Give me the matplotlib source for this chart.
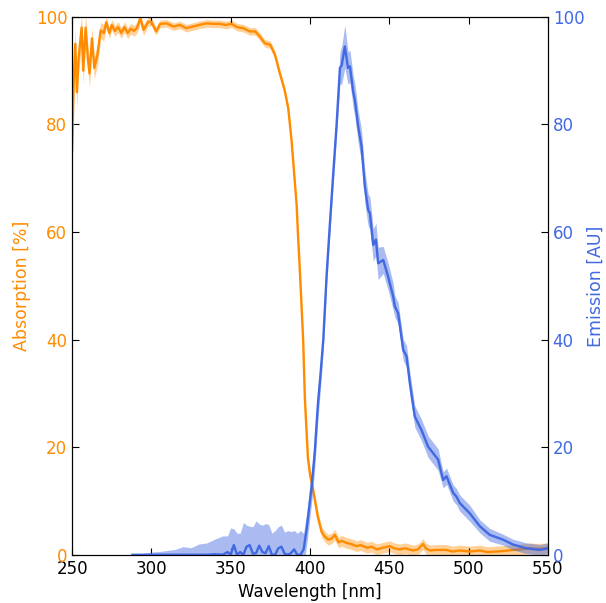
import numpy as np
import matplotlib
matplotlib.use('Agg')
import matplotlib.pyplot as plt

# absorption spectrum (orange)
abs_wl = [250, 251, 252, 253, 254, 256, 257, 258.5, 260, 261, 262.5, 264, 266, 268, 270,
          271.5, 273.5, 275, 277, 279, 281, 283, 285, 287, 289, 291, 293, 295, 298, 300,
          303, 305.5, 309.5, 314, 318, 322, 326, 330, 335, 339, 343, 347, 350.5, 354, 358,
          362, 365.5, 368.5, 371.5, 375, 378, 381, 384, 386.3, 388.4, 390, 391.6, 392.6,
          393.7, 394.7, 395.7, 396.8, 398.7, 400, 402, 403.5, 405, 407.3, 409, 411.5, 413.5,
          415.7, 418, 420, 423, 426, 429.4, 432, 436, 439, 442, 446, 450.4, 453, 456.7, 460,
          465, 468, 471.4, 473, 475.6, 480, 486, 490, 494.4, 500.7, 504, 507, 512, 517.5,
          522, 528, 533, 538.5, 544, 549, 550]
abs_val = [75, 88, 95, 86, 92, 98, 90, 98, 92, 89.5, 96, 90.5, 93, 97.5, 97,
           99, 97, 98.5, 97.4, 98.1, 97, 98.1, 97, 97.8, 97.4, 98, 99.8, 97.6, 99.1, 99.1,
           97.3, 98.7, 98.8, 98.2, 98.5, 97.9, 98.2, 98.5, 98.8, 98.7, 98.7, 98.5, 98.7, 98.1, 97.9,
           97.3, 97.3, 96.3, 95.1, 94.8, 92.9, 89.5, 86.4, 83, 77, 71, 65, 58.6,
           52.4, 46.2, 40, 29, 18, 15, 12, 9.5, 7, 4.3, 3.5, 2.8, 3,
           3.7, 2.3, 2.6, 2.2, 2.0, 1.6, 1.8, 1.3, 1.5, 1.0, 1.3, 1.6, 1.2, 1.0, 1.2,
           0.8, 1.0, 2.0, 1.2, 0.8, 0.9, 0.9, 0.6, 0.8, 0.6, 0.7, 0.8, 0.5, 0.6,
           0.7, 0.9, 1.0, 1.2, 1.1, 1.2, 1.3]
abs_err = [3, 3, 3, 3, 3, 2.5, 2.5, 2.5, 2.5, 2.5, 2, 2, 2, 1.5, 1.5,
           1, 1, 1, 1, 1, 1, 1, 1, 1, 1, 1, 1, 1, 0.8, 0.8,
           0.7, 0.7, 0.7, 0.7, 0.7, 0.7, 0.7, 0.7, 0.7, 0.7, 0.7, 0.7, 0.7, 0.7, 0.7,
           0.7, 0.7, 0.7, 0.7, 0.7, 0.7, 0.7, 0.7, 0.7, 0.7, 0.7, 0.7, 0.7,
           0.7, 0.7, 0.7, 0.8, 1, 1, 1, 1, 1, 1, 1, 1, 1,
           1, 1, 1, 1, 1, 1, 1, 1, 1, 1, 1, 1, 1, 1, 1,
           1, 1, 1, 1, 1, 1, 1, 1, 1, 1, 1, 1, 1, 1,
           1, 1, 1, 1, 1, 1, 1]

# emission spectrum (blue)
em_wl = [288, 295, 300, 305, 310, 315, 320, 325, 330, 335, 340, 345, 348, 350, 352, 354,
         356, 358, 360, 362, 364, 366, 368, 370, 372, 374, 376, 378, 380, 382, 384, 386,
         388, 390, 392, 394, 396, 398, 400, 401.5, 403, 405, 406.5, 408.4, 410.5, 412.6,
         414.7, 416.8, 418.9, 420, 422, 424, 425.2, 427.3, 428.3, 430.4, 432.5, 434.6,
         436.7, 437.8, 439.9, 441.6, 443, 446.2, 449.3, 452.5, 453.5, 455.6, 458.8, 460.9,
         463, 466.1, 470.3, 474.5, 480.8, 484, 486.1, 490.3, 492.4, 494.5, 500.8, 507.1,
         513.4, 521.8, 528, 536.5, 544.9, 550]
em_val = [0, 0, 0, 0, 0, 0, 0, 0, 0, 0, 0.1, 0, 0.5, 0, 1.8, 0,
          0.5, 0, 1.5, 1.8, 0.2, 0.3, 1.7, 0.5, 0.3, 1.6, 0, 0, 1.2, 1.5, 0.2, 0,
          0.3, 1.0, 0, 0, 1, 5, 10, 14, 19, 28, 33, 40, 52, 61.7,
          71, 80, 90.5, 91, 94.5, 90.5, 90.8, 86, 84.6, 79.6, 76, 68.5,
          64.1, 63.5, 57.6, 58.6, 54.2, 54.8, 51.7, 48, 46.2, 44.9, 38.1, 36.9,
          31.9, 25.7, 23.2, 20.1, 17.7, 13.9, 14.6, 11.5, 10.8, 9.6, 7.7, 5.3,
          3.7, 2.8, 1.9, 1.2, 0.9, 1.2]
em_err = [0, 0.3, 0.5, 0.6, 0.8, 1.0, 1.5, 1.3, 2, 2.2, 2.8, 3.5, 3, 5, 3, 4,
          3.5, 6, 4, 3.5, 5, 6, 4, 5, 5.5, 4, 4, 4.5, 4, 4, 4, 4.5,
          4, 3.5, 4, 4.5, 3, 3, 3, 3, 3, 3, 2.5, 2, 2, 2,
          2, 2, 3, 3.5, 4, 3, 3, 3, 3, 3, 3, 3,
          3, 3, 3, 3, 3, 2.5, 2.5, 2.5, 2, 2, 2, 2,
          2, 2, 2, 2, 2, 1.5, 1.5, 1.5, 1.5, 1.5, 1.5, 1.2,
          1.2, 1, 1, 1, 1, 1]

orange = '#ff8c00'
blue = '#4169e1'

plt.rcParams['font.family'] = 'DejaVu Sans'
plt.rcParams['font.size'] = 12

fig = plt.figure(figsize=(6.06, 6.03), dpi=100)
ax = fig.add_axes([0.119, 0.080, 0.785, 0.892])
ax2 = ax.twinx()

abs_val = np.array(abs_val)
abs_err = np.array(abs_err)
em_val = np.array(em_val)
em_err = np.array(em_err)

ax.fill_between(abs_wl, abs_val - abs_err, abs_val + abs_err, color=orange, alpha=0.4, lw=0)
ax.plot(abs_wl, abs_val, color=orange, lw=1.7)
ax2.fill_between(em_wl, em_val - em_err, em_val + em_err, color=blue, alpha=0.45, lw=0)
ax2.plot(em_wl, em_val, color=blue, lw=1.7)

ax.set_xlim(250, 550)
ax.set_ylim(0, 100)
ax2.set_ylim(0, 100)
ax.set_xticks([250, 300, 350, 400, 450, 500, 550])
ax.set_yticks([0, 20, 40, 60, 80, 100])
ax2.set_yticks([0, 20, 40, 60, 80, 100])

ax.set_xlabel('Wavelength [nm]', fontsize=12)
ax.set_ylabel('Absorption [%]', color=orange, fontsize=12.5, labelpad=3)
ax2.set_ylabel('Emission [AU]', color=blue, fontsize=12.5, labelpad=2)

ax.tick_params(axis='x', direction='in', top=True, length=5, labelsize=12)
ax.tick_params(axis='y', direction='in', length=5, colors='k', labelcolor=orange, labelsize=12)
ax2.tick_params(axis='y', direction='in', length=5, labelcolor=blue, labelsize=12)

plt.savefig('out.png', dpi=100)
